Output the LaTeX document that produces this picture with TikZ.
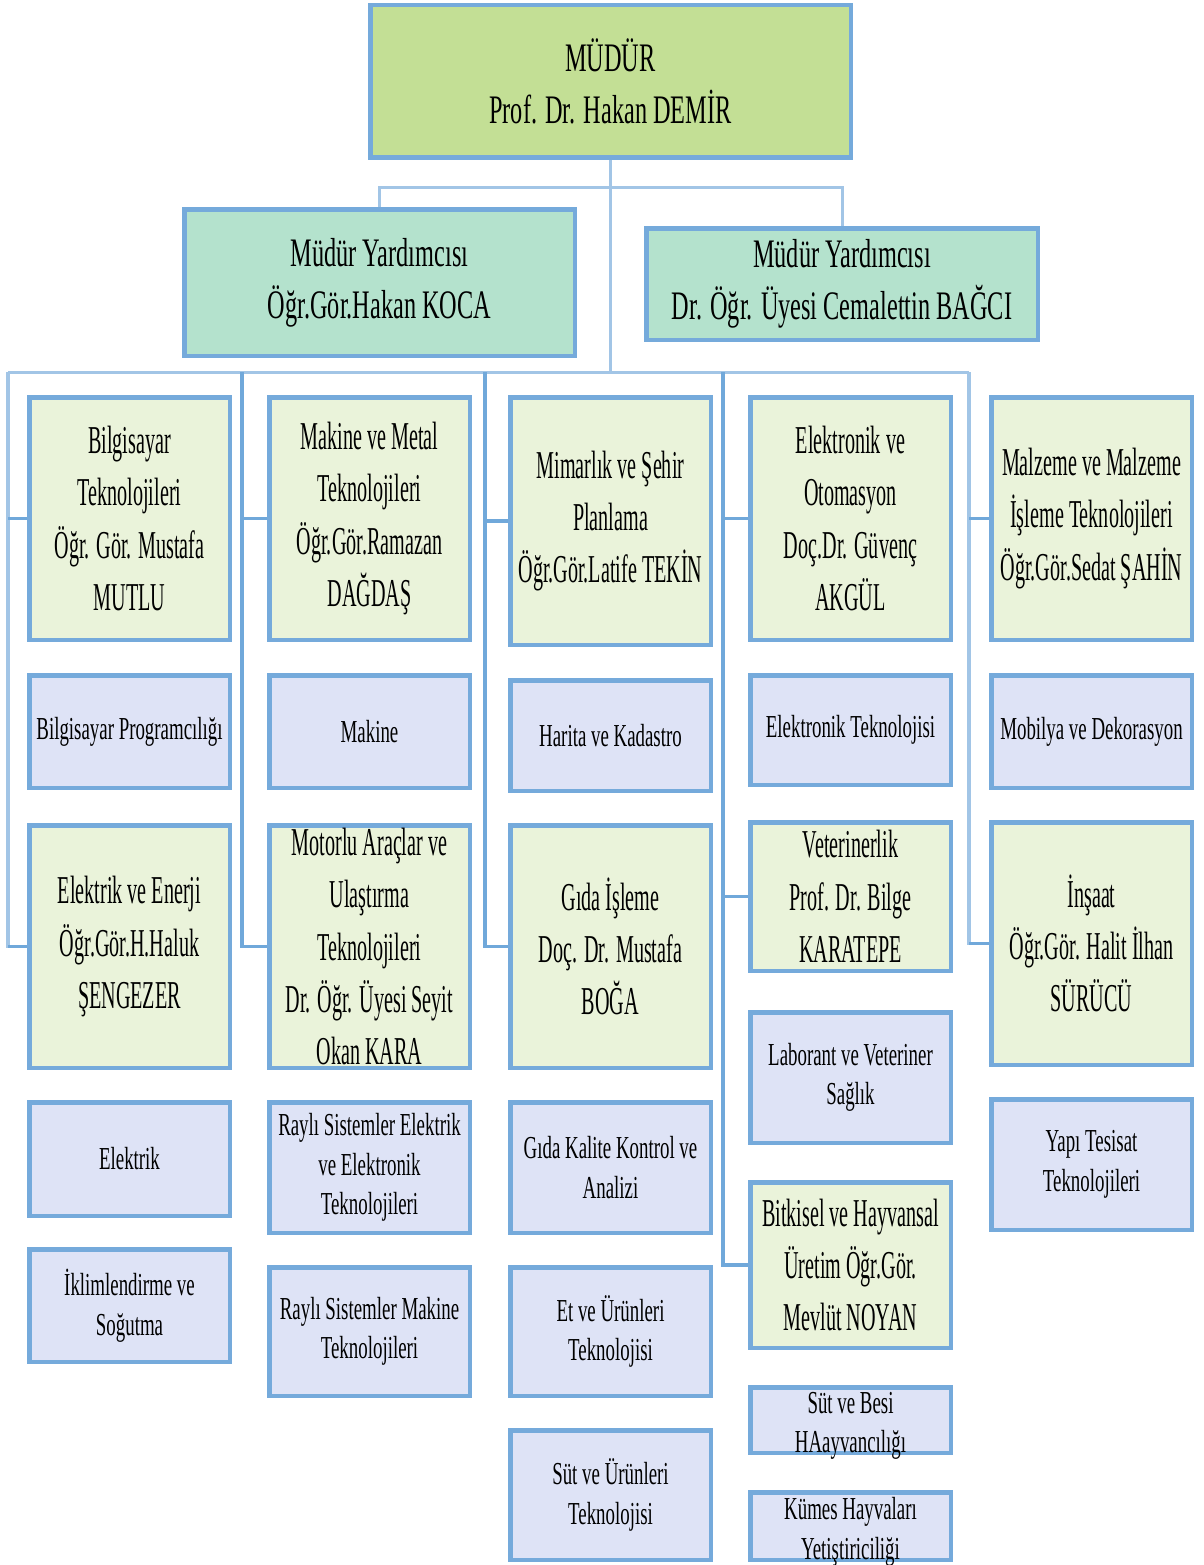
\documentclass[tikz,border=0pt]{standalone}
\usepackage{fontspec}
\setmainfont{Liberation Serif}
\newfontfamily\topfont{Liberation Serif}[FakeStretch=0.6]
\newfontfamily\headfont{Liberation Serif}[FakeStretch=0.51]
\newfontfamily\subfont{Liberation Serif}[FakeStretch=0.59]
\usetikzlibrary{backgrounds}
\definecolor{bord}{HTML}{75AADB}
\definecolor{topfill}{HTML}{C3DF95}
\definecolor{asstfill}{HTML}{B4E2CD}
\definecolor{headfill}{HTML}{EAF3DA}
\definecolor{subfill}{HTML}{DEE3F6}
\definecolor{connlight}{HTML}{A2C5E6}
\definecolor{conndark}{HTML}{70A8DA}
\tikzset{
  bx/.style={draw=bord, line width=4.5pt, inner sep=0pt, align=center},
  topbx/.style={bx, fill=topfill, font=\topfont\fontsize{40.5}{52}\selectfont},
  asstbx/.style={bx, fill=asstfill, font=\topfont\fontsize{40.5}{52}\selectfont},
  headbx/.style={bx, fill=headfill, font=\headfont\fontsize{39.5}{52.3}\selectfont},
  subbx/.style={bx, fill=subfill, font=\subfont\fontsize{32}{39.5}\selectfont},
  subtext/.style={align=center, inner sep=0pt, font=\subfont\fontsize{32}{39.5}\selectfont},
  conn/.style={draw=connlight, line width=3pt},
  colconn/.style={draw=conndark, line width=3.5pt},
  colconnl/.style={draw=connlight, line width=3.5pt},
}
\begin{document}
\begin{tikzpicture}[x=1pt,y=-1pt]
\useasboundingbox (0,0) rectangle (1203,1565);

% top level
\node[topbx, minimum width=480.5, minimum height=152.5] (mudur) at (610.5,81.5) {MÜDÜR\\Prof. Dr. Hakan DEMİR};
\node[asstbx, minimum width=390.5, minimum height=146.5] (asstL) at (379.5,282.5) {Müdür Yardımcısı\\Öğr.Gör.Hakan KOCA};
\node[asstbx, minimum width=391.5, minimum height=111.5] (asstR) at (842,284) {Müdür Yardımcısı\\Dr. Öğr. Üyesi Cemalettin BAĞCI};

% column 1
\node[headbx, minimum width=200.5, minimum height=242.5] (bilg) at (129.5,518.5) {Bilgisayar\\Teknolojileri\\Öğr. Gör. Mustafa\\MUTLU};
\node[subbx, minimum width=200.5, minimum height=112.5] (bprog) at (129.5,731.5) {Bilgisayar Programcılığı};
\node[headbx, minimum width=200.5, minimum height=242.5] (enerji) at (129.5,946.5) {Elektrik ve Enerji\\Öğr.Gör.H.Haluk\\ŞENGEZER};
\node[subbx, minimum width=200.5, minimum height=113.5] (elektrik) at (129.5,1159) {Elektrik};
\node[subbx, minimum width=200.5, minimum height=112.5] (iklim) at (129.5,1305.5) {İklimlendirme ve\\Soğutma};

% column 2
\node[headbx, minimum width=200.5, minimum height=242.5] (makmetal) at (369.5,518.5) {Makine ve Metal\\Teknolojileri\\Öğr.Gör.Ramazan\\DAĞDAŞ};
\node[subbx, minimum width=200.5, minimum height=112.5] (makine) at (369.5,731.5) {Makine};
\node[headbx, minimum width=200.5, minimum height=242.5] (motorlu) at (369.5,946.5) {Motorlu Araçlar ve\\Ulaştırma\\Teknolojileri\\Dr. Öğr. Üyesi Seyit\\Okan KARA};
\node[subbx, minimum width=200.5, minimum height=130.5] (rayelk) at (369.5,1167.5) {Raylı Sistemler Elektrik\\ve Elektronik\\Teknolojileri};
\node[subbx, minimum width=200.5, minimum height=128.5] (raymak) at (369.5,1331.5) {Raylı Sistemler Makine\\Teknolojileri};

% column 3
\node[headbx, minimum width=200.5, minimum height=247.5] (mimar) at (610.5,521) {Mimarlık ve Şehir\\Planlama\\Öğr.Gör.Latife TEKİN};
\node[subbx, minimum width=200.5, minimum height=110.5] (harita) at (610.5,735.5) {Harita ve Kadastro};
\node[headbx, minimum width=200.5, minimum height=242.5] (gida) at (610.5,946.5) {Gıda İşleme\\Doç. Dr. Mustafa\\BOĞA};
\node[subbx, minimum width=200.5, minimum height=130.5] (gidakal) at (610.5,1167.5) {Gıda Kalite Kontrol ve\\Analizi};
\node[subbx, minimum width=200.5, minimum height=128.5] (etur) at (610.5,1331.5) {Et ve Ürünleri\\Teknolojisi};
\node[subbx, minimum width=200.5, minimum height=129.5] (sutur) at (610.5,1495) {Süt ve Ürünleri\\Teknolojisi};

% column 4
\node[headbx, minimum width=200.5, minimum height=242.5] (elekoto) at (850.5,518.5) {Elektronik ve\\Otomasyon\\Doç.Dr. Güvenç\\AKGÜL};
\node[subbx, minimum width=200.5, minimum height=109.5] (elektek) at (850.5,730) {Elektronik Teknolojisi};
\node[headbx, minimum width=200.5, minimum height=148.5] (veter) at (850.5,896.5) {Veterinerlik\\Prof. Dr. Bilge\\KARATEPE};
\node[subbx, minimum width=200.5, minimum height=130.5] (laborant) at (850.5,1077.5) {Laborant ve Veteriner\\Sağlık};
\node[headbx, minimum width=200.5, minimum height=165.5] (bitki) at (850.5,1265) {Bitkisel ve Hayvansal\\Üretim Öğr.Gör.\\Mevlüt NOYAN};
\node[subbx, minimum width=200.5, minimum height=65.5, label={[subtext, yshift=-6pt]center:Süt ve Besi\\HAayvancılığı}] (sutbesi) at (850.5,1420) {};
\node[subbx, minimum width=200.5, minimum height=67.5, label={[subtext, yshift=-6pt]center:Kümes Hayvaları\\Yetiştiriciliği}] (kumes) at (850.5,1526) {};

% column 5
\node[headbx, minimum width=200.5, minimum height=242.5] (malz) at (1091.5,518.5) {Malzeme ve Malzeme\\İşleme Teknolojileri\\Öğr.Gör.Sedat ŞAHİN};
\node[subbx, minimum width=200.5, minimum height=112.5] (mobil) at (1091.5,731.5) {Mobilya ve Dekorasyon};
\node[headbx, minimum width=200.5, minimum height=242.5] (insaat) at (1091.5,943.5) {İnşaat\\Öğr.Gör. Halit İlhan\\SÜRÜCÜ};
\node[subbx, minimum width=200.5, minimum height=130.5] (yapi) at (1091.5,1164.5) {Yapı Tesisat\\Teknolojileri};

% bus coordinates
\coordinate (tb) at (610.5,188);
\coordinate (c1) at (8,372);
\coordinate (c2) at (242,372);
\coordinate (c3) at (485,372);
\coordinate (c4) at (723,372);
\coordinate (c5) at (969,372);
\coordinate (cm) at (610.5,372);

\begin{scope}[on background layer]
\draw[conn] (mudur.south) -- (cm);
\draw[conn] (asstL.north) |- (tb) -| (asstR.north);
\draw[conn] (c1) -- (c5);
% column 1
\draw[colconnl] (c1) |- (enerji.west);
\draw[colconn] (c1 |- bilg.west) -- (bilg.west);
\draw[colconn] (c1 |- enerji.west) -- (enerji.west);
% column 2
\draw[colconn] (c2) |- (motorlu.west);
\draw[colconn] (c2 |- makmetal.west) -- (makmetal.west);
% column 3
\draw[colconn] (c3) |- (gida.west);
\draw[colconn] (c3 |- mimar.west) -- (mimar.west);
% column 4
\draw[colconn] (c4) |- (bitki.west);
\draw[colconn] (c4 |- elekoto.west) -- (elekoto.west);
\draw[colconn] (c4 |- veter.west) -- (veter.west);
% column 5
\draw[colconnl] (c5) |- (insaat.west);
\draw[colconn] (c5 |- malz.west) -- (malz.west);
\draw[colconn] (c5 |- insaat.west) -- (insaat.west);
\end{scope}
\end{tikzpicture}
\end{document}
